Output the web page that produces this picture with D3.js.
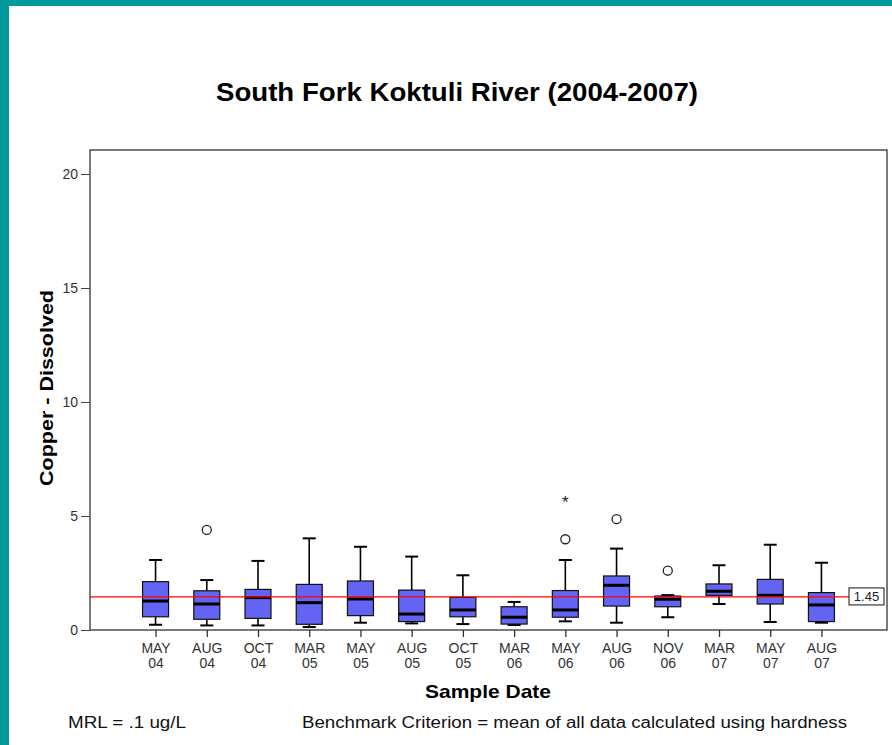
<!DOCTYPE html>
<html>
<head>
<meta charset="utf-8">
<script src="https://d3js.org/d3.v7.min.js"></script>
<style>
  body { margin: 0; background: #fff; }
  svg { display: block; font-family: "Liberation Sans", Arial, sans-serif; }
</style>
</head>
<body>
<div id="chart"></div>
<script>
// Sample dates (two-line tick labels)
const months = ["MAY","AUG","OCT","MAR","MAY","AUG","OCT","MAR","MAY","AUG","NOV","MAR","MAY","AUG"];
const years  = ["04","04","04","05","05","05","05","06","06","06","06","07","07","07"];
const categories = months.map((m, i) => `${m} ${years[i]}`);

// box plot statistics
const whiskerLow  = [0.23, 0.20, 0.20, 0.13, 0.32, 0.29, 0.26, 0.22, 0.38, 0.32, 0.56, 1.14, 0.35, 0.32];
const q1          = [0.58, 0.47, 0.51, 0.25, 0.63, 0.37, 0.58, 0.26, 0.56, 1.05, 1.02, 1.52, 1.14, 0.37];
const median      = [1.27, 1.14, 1.42, 1.20, 1.36, 0.70, 0.88, 0.56, 0.88, 1.96, 1.35, 1.70, 1.52, 1.10];
const q3          = [2.12, 1.72, 1.78, 2.00, 2.15, 1.75, 1.43, 1.02, 1.73, 2.37, 1.49, 2.02, 2.22, 1.64];
const whiskerHigh = [3.07, 2.19, 3.03, 4.02, 3.65, 3.22, 2.40, 1.23, 3.07, 3.57, 1.53, 2.84, 3.74, 2.95];

// outliers: circles and extremes (stars)
const outliers = [
  {cat: "AUG 04", value: 4.39, type: "o"},
  {cat: "MAY 06", value: 3.98, type: "o"},
  {cat: "MAY 06", value: 5.73, type: "*"},
  {cat: "AUG 06", value: 4.86, type: "o"},
  {cat: "NOV 06", value: 2.60, type: "o"}
];

const benchmark = 1.45;
const yTicks = [0, 5, 10, 15, 20];

const W = 892, H = 745;
const svg = d3.select("#chart").append("svg").attr("width", W).attr("height", H);

// teal frame of the slide
svg.append("rect").attr("x", 0).attr("y", 0).attr("width", W).attr("height", 6).attr("fill", "#009999");
svg.append("rect").attr("x", 0).attr("y", 0).attr("width", 9).attr("height", H).attr("fill", "#009999");

const plot = {left: 90, right: 887, top: 150, bottom: 630};

const x = d3.scalePoint()
    .domain(categories)
    .range([plot.left, plot.right])
    .padding(1.28);

const y = d3.scaleLinear()
    .domain([0, 20])
    .range([plot.bottom, 174]);

// text stretched to the width seen in the slide
function stretched(sel, len) {
    return sel.attr("textLength", len).attr("lengthAdjust", "spacingAndGlyphs");
}

// title
stretched(svg.append("text")
    .attr("x", 457).attr("y", 101)
    .attr("text-anchor", "middle")
    .style("font-size", "25px").style("font-weight", "bold")
    .text("South Fork Koktuli River (2004-2007)"), 482);

// plot frame
svg.append("rect")
    .attr("x", plot.left).attr("y", plot.top)
    .attr("width", plot.right - plot.left).attr("height", plot.bottom - plot.top)
    .attr("fill", "#fff").attr("stroke", "#333").attr("stroke-width", 1.3);

// y axis
const yAxis = svg.append("g")
    .attr("transform", `translate(${plot.left},0)`)
    .call(d3.axisLeft(y).tickValues(yTicks).tickSize(9).tickPadding(3));
yAxis.select(".domain").remove();
yAxis.selectAll("line").attr("stroke", "#444");
yAxis.selectAll("text").style("font-size", "14px").attr("fill", "#333").attr("dy", "0.35em");

// x axis
const xAxis = svg.append("g")
    .attr("transform", `translate(0,${plot.bottom})`)
    .call(d3.axisBottom(x).tickSize(7).tickFormat(""));
xAxis.select(".domain").remove();
xAxis.selectAll("line").attr("stroke", "#333").attr("stroke-width", 1.3);
xAxis.selectAll(".tick").each(function(d, i) {
    const t = d3.select(this).append("text")
        .attr("fill", "#333").style("font-size", "14px").attr("text-anchor", "middle");
    t.append("tspan").attr("x", 0).attr("y", 23).text(months[i]);
    t.append("tspan").attr("x", 0).attr("y", 38).text(years[i]);
});

// axis titles
stretched(svg.append("text")
    .attr("transform", `translate(53,${(plot.top + plot.bottom) / 2 - 2}) rotate(-90)`)
    .attr("text-anchor", "middle")
    .style("font-size", "18px").style("font-weight", "bold")
    .text("Copper - Dissolved"), 196);

stretched(svg.append("text")
    .attr("x", 488).attr("y", 698)
    .attr("text-anchor", "middle")
    .style("font-size", "19px").style("font-weight", "bold")
    .text("Sample Date"), 126);

// footer notes
stretched(svg.append("text").attr("x", 68).attr("y", 728)
    .style("font-size", "16px").attr("fill", "#111")
    .text("MRL = .1 ug/L"), 118);
stretched(svg.append("text").attr("x", 302).attr("y", 728)
    .style("font-size", "16px").attr("fill", "#111")
    .text("Benchmark Criterion = mean of all data calculated using hardness"), 545);

// boxes
const boxW = 26, capW = 13;
const boxData = categories.map((c, i) => ({
    cat: c, lo: whiskerLow[i], q1: q1[i], med: median[i], q3: q3[i], hi: whiskerHigh[i]
}));

const boxes = svg.append("g").selectAll("g.box").data(boxData).enter()
    .append("g").attr("class", "box")
    .attr("transform", d => `translate(${x(d.cat)},0)`);

boxes.append("line")
    .attr("x1", 0).attr("x2", 0)
    .attr("y1", d => y(d.hi)).attr("y2", d => y(d.q3))
    .attr("stroke", "#000").attr("stroke-width", 1.6);
boxes.append("line")
    .attr("x1", 0).attr("x2", 0)
    .attr("y1", d => y(d.q1)).attr("y2", d => y(d.lo))
    .attr("stroke", "#000").attr("stroke-width", 1.6);
boxes.append("line")
    .attr("x1", -capW / 2).attr("x2", capW / 2)
    .attr("y1", d => y(d.hi)).attr("y2", d => y(d.hi))
    .attr("stroke", "#000").attr("stroke-width", 2);
boxes.append("line")
    .attr("x1", -capW / 2).attr("x2", capW / 2)
    .attr("y1", d => y(d.lo)).attr("y2", d => y(d.lo))
    .attr("stroke", "#000").attr("stroke-width", 2);
boxes.append("rect")
    .attr("x", -boxW / 2).attr("width", boxW)
    .attr("y", d => y(d.q3)).attr("height", d => y(d.q1) - y(d.q3))
    .attr("fill", "#6464f4").attr("stroke", "#111").attr("stroke-width", 1.2);
boxes.append("line")
    .attr("x1", -boxW / 2).attr("x2", boxW / 2)
    .attr("y1", d => y(d.med)).attr("y2", d => y(d.med))
    .attr("stroke", "#000").attr("stroke-width", 3);

// outliers
const outG = svg.append("g");
outG.selectAll("circle").data(outliers.filter(d => d.type === "o")).enter()
    .append("circle")
    .attr("cx", d => x(d.cat)).attr("cy", d => y(d.value))
    .attr("r", 4.5).attr("fill", "none").attr("stroke", "#222").attr("stroke-width", 1.3);
outG.selectAll("text").data(outliers.filter(d => d.type === "*")).enter()
    .append("text")
    .attr("x", d => x(d.cat)).attr("y", d => y(d.value) + 9)
    .attr("text-anchor", "middle")
    .style("font-size", "17px").attr("fill", "#222")
    .text("*");

// benchmark line and label
const labelX = 849;
svg.append("line")
    .attr("x1", plot.left).attr("x2", labelX)
    .attr("y1", y(benchmark)).attr("y2", y(benchmark))
    .attr("stroke", "#ff0000").attr("stroke-width", 1.3);
svg.append("rect")
    .attr("x", labelX).attr("y", y(benchmark) - 9)
    .attr("width", 35).attr("height", 17)
    .attr("fill", "#fff").attr("stroke", "#111").attr("stroke-width", 1);
svg.append("text")
    .attr("x", labelX + 17.5).attr("y", y(benchmark) + 4.5)
    .attr("text-anchor", "middle")
    .style("font-size", "13px").attr("fill", "#222")
    .text(benchmark.toFixed(2));
</script>
</body>
</html>
